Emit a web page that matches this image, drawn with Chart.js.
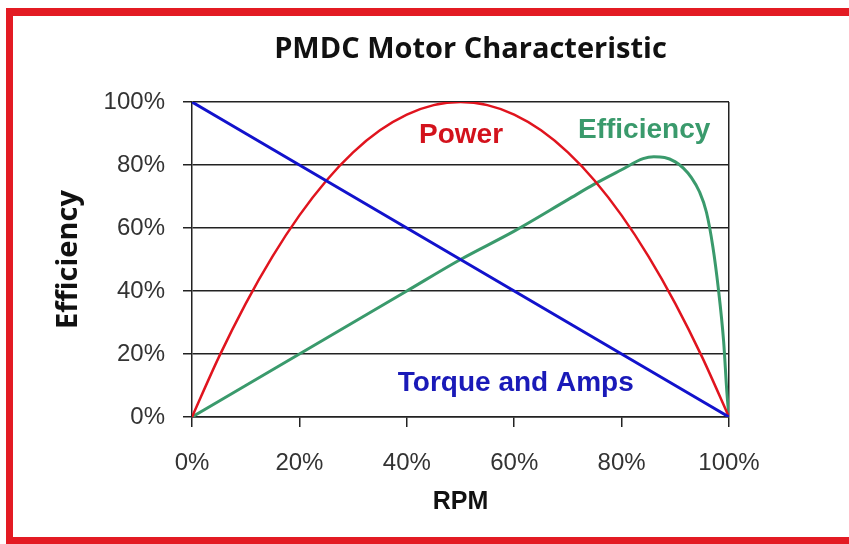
<!DOCTYPE html>
<html>
<head>
<meta charset="utf-8">
<script src="https://cdn.jsdelivr.net/npm/chart.js@4"></script>
<style>
  html, body { margin: 0; padding: 0; background: #fff; overflow: hidden; }
  #wrap { position: relative; width: 849px; height: 544px; }
  #frame {
    position: absolute; left: 6px; top: 8px; right: -10px; bottom: 0;
    border-top: 8px solid #e31b23; border-left: 7px solid #e31b23; border-bottom: 7px solid #e31b23;
    pointer-events: none;
  }
</style>
</head>
<body>
<div id="wrap">
  <canvas id="motorChart" width="849" height="544"></canvas>
  <div id="frame"></div>
</div>
<script>
// RPM (% of no-load speed) sample points
const rpm = [0, 5, 10, 15, 20, 25, 30, 35, 40, 45, 50, 55, 60, 65, 70, 75, 80, 85, 90, 95, 100];
const power = [0, 19, 36, 51, 64, 75, 84, 91, 96, 99, 100, 99, 96, 91, 84, 75, 64, 51, 36, 19, 0];
const torque = [100, 95, 90, 85, 80, 75, 70, 65, 60, 55, 50, 45, 40, 35, 30, 25, 20, 15, 10, 5, 0];

// efficiency is read at its own points, denser near the sharp drop
const effRpm = [0, 10, 20, 30, 40, 50, 60, 70, 75, 80, 84, 86, 88, 90, 91.5, 93, 94.5, 95.8, 97, 98, 99, 99.6, 100];
const efficiency = [0, 10, 20, 30, 40, 50, 59, 69, 74, 78.5, 82, 82.6, 82.4, 81, 79, 76, 71.5, 65, 54, 41, 24, 8, 0];

const xTicks = [0, 20, 40, 60, 80, 100];
const yTicks = [0, 20, 40, 60, 80, 100];

const chartTitle = 'PMDC Motor Characteristic';

// text labels placed on the curves, in data units
const curveLabels = [
  { text: 'Power', x: 50.1, y: 89.5, color: '#d3121c' },
  { text: 'Efficiency', x: 84.2, y: 91, color: '#3a9a6c' },
  { text: 'Torque and Amps', x: 60.3, y: 10.8, color: '#1a1ab8' }
];

function toPoints(xs, ys) {
  return xs.map((x, i) => ({ x: x, y: ys[i] }));
}

const labelPlugin = {
  id: 'curveLabels',
  afterDatasetsDraw(chart) {
    const ctx = chart.ctx;
    const xs = chart.scales.x;
    const ys = chart.scales.y;
    const area = chart.chartArea;
    ctx.save();
    ctx.textAlign = 'center';
    ctx.textBaseline = 'middle';

    // title sits over the plot area, a little right of centre like the original
    ctx.font = 'bold 29px "Open Sans", sans-serif';
    ctx.fillStyle = '#111';
    ctx.fillText(chartTitle, (area.left + area.right) / 2 + 10, area.top - 52);

    ctx.font = 'bold 28px "Liberation Sans", Arial, sans-serif';
    curveLabels.forEach(l => {
      ctx.fillStyle = l.color;
      ctx.fillText(l.text, xs.getPixelForValue(l.x), ys.getPixelForValue(l.y));
    });
    ctx.restore();
  }
};

const tickFont = { family: '"Liberation Sans", Arial, sans-serif', size: 24 };

new Chart(document.getElementById('motorChart'), {
  type: 'line',
  data: {
    datasets: [
      {
        label: 'Torque and Amps',
        data: toPoints(rpm, torque),
        borderColor: '#1212cc',
        borderWidth: 3,
        pointRadius: 0,
        tension: 0
      },
      {
        label: 'Power',
        data: toPoints(rpm, power),
        borderColor: '#e0141e',
        borderWidth: 2.5,
        pointRadius: 0,
        cubicInterpolationMode: 'monotone'
      },
      {
        label: 'Efficiency',
        data: toPoints(effRpm, efficiency),
        borderColor: '#3a9a6c',
        borderWidth: 3,
        pointRadius: 0,
        cubicInterpolationMode: 'monotone'
      }
    ]
  },
  options: {
    responsive: false,
    animation: false,
    layout: { padding: { left: 47, right: 120, top: 102, bottom: 0 } },
    plugins: {
      legend: { display: false },
      tooltip: { enabled: false },
      title: { display: false }
    },
    scales: {
      x: {
        type: 'linear',
        min: 0,
        max: 100,
        afterBuildTicks: scale => { scale.ticks = xTicks.map(v => ({ value: v })); },
        afterFit: scale => { scale.height = 127; },
        ticks: {
          color: '#333',
          font: tickFont,
          padding: 22,
          maxRotation: 0,
          callback: v => v + '%'
        },
        grid: {
          drawOnChartArea: true,
          color: c => (c.tick && c.tick.value === 100 ? '#222' : 'transparent'),
          lineWidth: 1.5,
          tickColor: '#222',
          tickLength: 10
        },
        border: { display: true, color: '#222', width: 1.5 },
        title: {
          display: true,
          text: 'RPM',
          color: '#111',
          font: { family: '"Liberation Sans", Arial, sans-serif', size: 25, weight: 'bold' },
          padding: { top: 0, bottom: 27 }
        }
      },
      y: {
        type: 'linear',
        min: 0,
        max: 100,
        afterBuildTicks: scale => { scale.ticks = yTicks.map(v => ({ value: v })); },
        afterFit: scale => { scale.width = 145; },
        ticks: {
          color: '#333',
          font: tickFont,
          padding: 18,
          callback: v => v + '%'
        },
        grid: {
          color: '#222',
          lineWidth: 1.5,
          tickColor: '#222',
          tickLength: 9
        },
        border: { display: true, color: '#222', width: 1.5 },
        title: {
          display: true,
          text: 'Efficiency',
          color: '#111',
          font: { family: '"Open Sans", sans-serif', size: 29, weight: 'bold' },
          padding: { top: 4, bottom: 0 }
        }
      }
    }
  },
  plugins: [labelPlugin]
});
</script>
</body>
</html>
